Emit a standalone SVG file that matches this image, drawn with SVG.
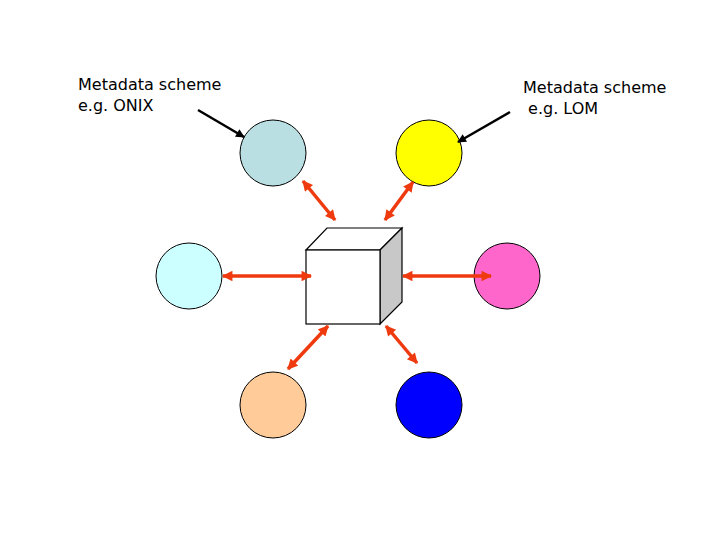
<svg xmlns="http://www.w3.org/2000/svg" width="720" height="540" viewBox="0 0 720 540">
<style>
.c{stroke:#000;stroke-width:1}
.r{stroke:#ee3a0e;stroke-width:3.5;marker-start:url(#ra);marker-end:url(#ra)}
.k{stroke:#000;stroke-width:2.5;marker-end:url(#ka)}
text{font-family:"DejaVu Sans",sans-serif;font-size:16px;fill:#000}
</style>
<defs>
<marker id="ra" viewBox="0 0 10 10" refX="9" refY="5" markerWidth="3.5" markerHeight="3" orient="auto-start-reverse"><path d="M0,0L10,5L0,10z" fill="#ee3a0e"/></marker>
<marker id="ka" viewBox="0 0 10 10" refX="9" refY="5" markerWidth="4" markerHeight="3.5" orient="auto"><path d="M0,0L10,5L0,10z" fill="#000"/></marker>
</defs>
<rect width="720" height="540" fill="#fff"/>
<g id="n1"><circle class="c" cx="273" cy="153" r="33" fill="#b9dfe3"/></g>
<g id="n2"><circle class="c" cx="429" cy="153" r="33" fill="#ffff00"/></g>
<g id="n3"><circle class="c" cx="189" cy="276" r="33" fill="#ccffff"/></g>
<g id="n4"><circle class="c" cx="507" cy="276" r="33" fill="#ff66cc"/></g>
<g id="n5"><circle class="c" cx="273" cy="405" r="33" fill="#ffcc99"/></g>
<g id="n6"><circle class="c" cx="429" cy="405" r="33" fill="#0000ff"/></g>
<g id="cube" stroke="#000" stroke-width="1.2">
<path d="M306,250L327,228L402,228L380,250z" fill="#fff"/>
<path d="M380,250L402,228L402,302L380,324z" fill="#c8c8c8"/>
<rect x="306" y="250" width="74" height="74" fill="#fff"/>
</g>
<g id="connectors">
<line class="r" x1="303" y1="181" x2="335" y2="220"/>
<line class="r" x1="413" y1="182" x2="385" y2="220"/>
<line class="r" x1="223" y1="276" x2="311" y2="276"/>
<line class="r" x1="403" y1="276" x2="491" y2="276"/>
<line class="r" x1="328" y1="326" x2="288" y2="369"/>
<line class="r" x1="386" y1="326" x2="417" y2="363"/>
<line class="k" x1="198" y1="110" x2="244" y2="137"/>
<line class="k" x1="510" y1="112" x2="458" y2="142"/>
</g>
<g id="labels">
<text x="78" y="90">Metadata scheme</text>
<text x="78" y="111">e.g. ONIX</text>
<text x="523" y="93">Metadata scheme</text>
<text x="523" y="114" xml:space="preserve"> e.g. LOM</text>
</g>
</svg>
